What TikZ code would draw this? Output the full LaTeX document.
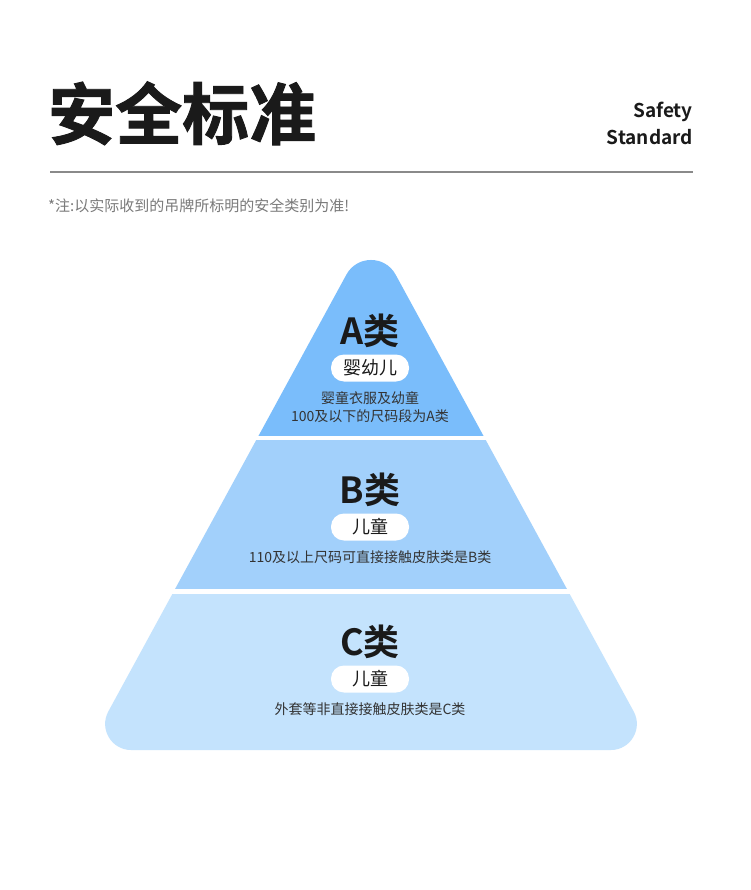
\documentclass[tikz,border=0pt]{standalone}
\usepackage{fontspec}
\setmainfont{Noto Sans CJK SC}[BoldFont={* Bold}]
\newfontfamily\titlefont{Noto Sans CJK SC}[UprightFont={* Bold}, FakeBold=1.3]
\definecolor{ink}{HTML}{1A1A1A}
\definecolor{inkB}{HTML}{333333}
\definecolor{notegray}{HTML}{7A7A7A}
\definecolor{rulegray}{HTML}{8A8A8A}
\definecolor{cA}{HTML}{7ABDFB}
\definecolor{cB}{HTML}{A2D0FB}
\definecolor{cC}{HTML}{C4E3FD}
\tikzset{
  head/.style={font=\fontsize{36}{36}\selectfont\bfseries, text=ink, anchor=base, inner sep=0pt},
  pill/.style={fill=white, rounded corners=13pt, minimum width=78pt, minimum height=27pt, inner sep=0pt, font=\fontsize{18}{18}\selectfont, text=ink},
  desc/.style={font=\fontsize{14}{14}\selectfont, text=inkB, anchor=base, inner sep=0pt},
}
\begin{document}
\begin{tikzpicture}[x=1pt,y=-1pt]
\useasboundingbox (0,0) rectangle (750,890);
\fill[white] (0,0) rectangle (750,890);
% header
\node[anchor=base west, inner sep=0pt, font=\fontsize{67}{67}\titlefont, text=ink] (title) at (48,139) {安全标准};
\node[anchor=base east, inner sep=0pt, font=\fontsize{19}{19}\selectfont\bfseries, text=ink] (en1) at (693,118) {Safety};
\node[anchor=base east, inner sep=0pt, font=\fontsize{19}{19}\selectfont\bfseries, text=ink] (en2) at (693,145) {Standard};
\coordinate (ruleL) at (50,172);
\coordinate (ruleR) at (693,172);
\draw[rulegray, line width=1.2pt] (ruleL) -- (ruleR);
\node[anchor=base west, inner sep=0pt, font=\fontsize{15}{15}\selectfont, text=notegray] (note) at (48,212) {*注:以实际收到的吊牌所标明的安全类别为准!};
% pyramid
\begin{scope}
\clip (131.1,750) -- (610.9,750)
  .. controls (630.6,750) and (643.1,728.8) .. (633.7,711.5)
  -- (395.6,274.6)
  .. controls (385.0,255.1) and (357.0,255.1) .. (346.4,274.6)
  -- (108.3,711.5)
  .. controls (98.9,728.8) and (111.4,750) .. (131.1,750) -- cycle;
\fill[cA] (0,200) rectangle (750,435.5);
\fill[cB] (0,440) rectangle (750,589);
\fill[cC] (0,594) rectangle (750,760);
\end{scope}
% A
\node[head] (Ahead) at (370,344) {A类};
\node[pill] (Apill) at (370,368) {婴幼儿};
\node[desc] (Adesc1) at (370,403) {婴童衣服及幼童};
\node[desc] (Adesc2) at (370,421) {100及以下的尺码段为A类};
% B
\node[head] (Bhead) at (370,503) {B类};
\node[pill] (Bpill) at (370,527) {儿童};
\node[desc] (Bdesc) at (370,562) {110及以上尺码可直接接触皮肤类是B类};
% C
\node[head] (Chead) at (370,655) {C类};
\node[pill] (Cpill) at (370,679) {儿童};
\node[desc] (Cdesc) at (370,714) {外套等非直接接触皮肤类是C类};
\end{tikzpicture}
\end{document}
